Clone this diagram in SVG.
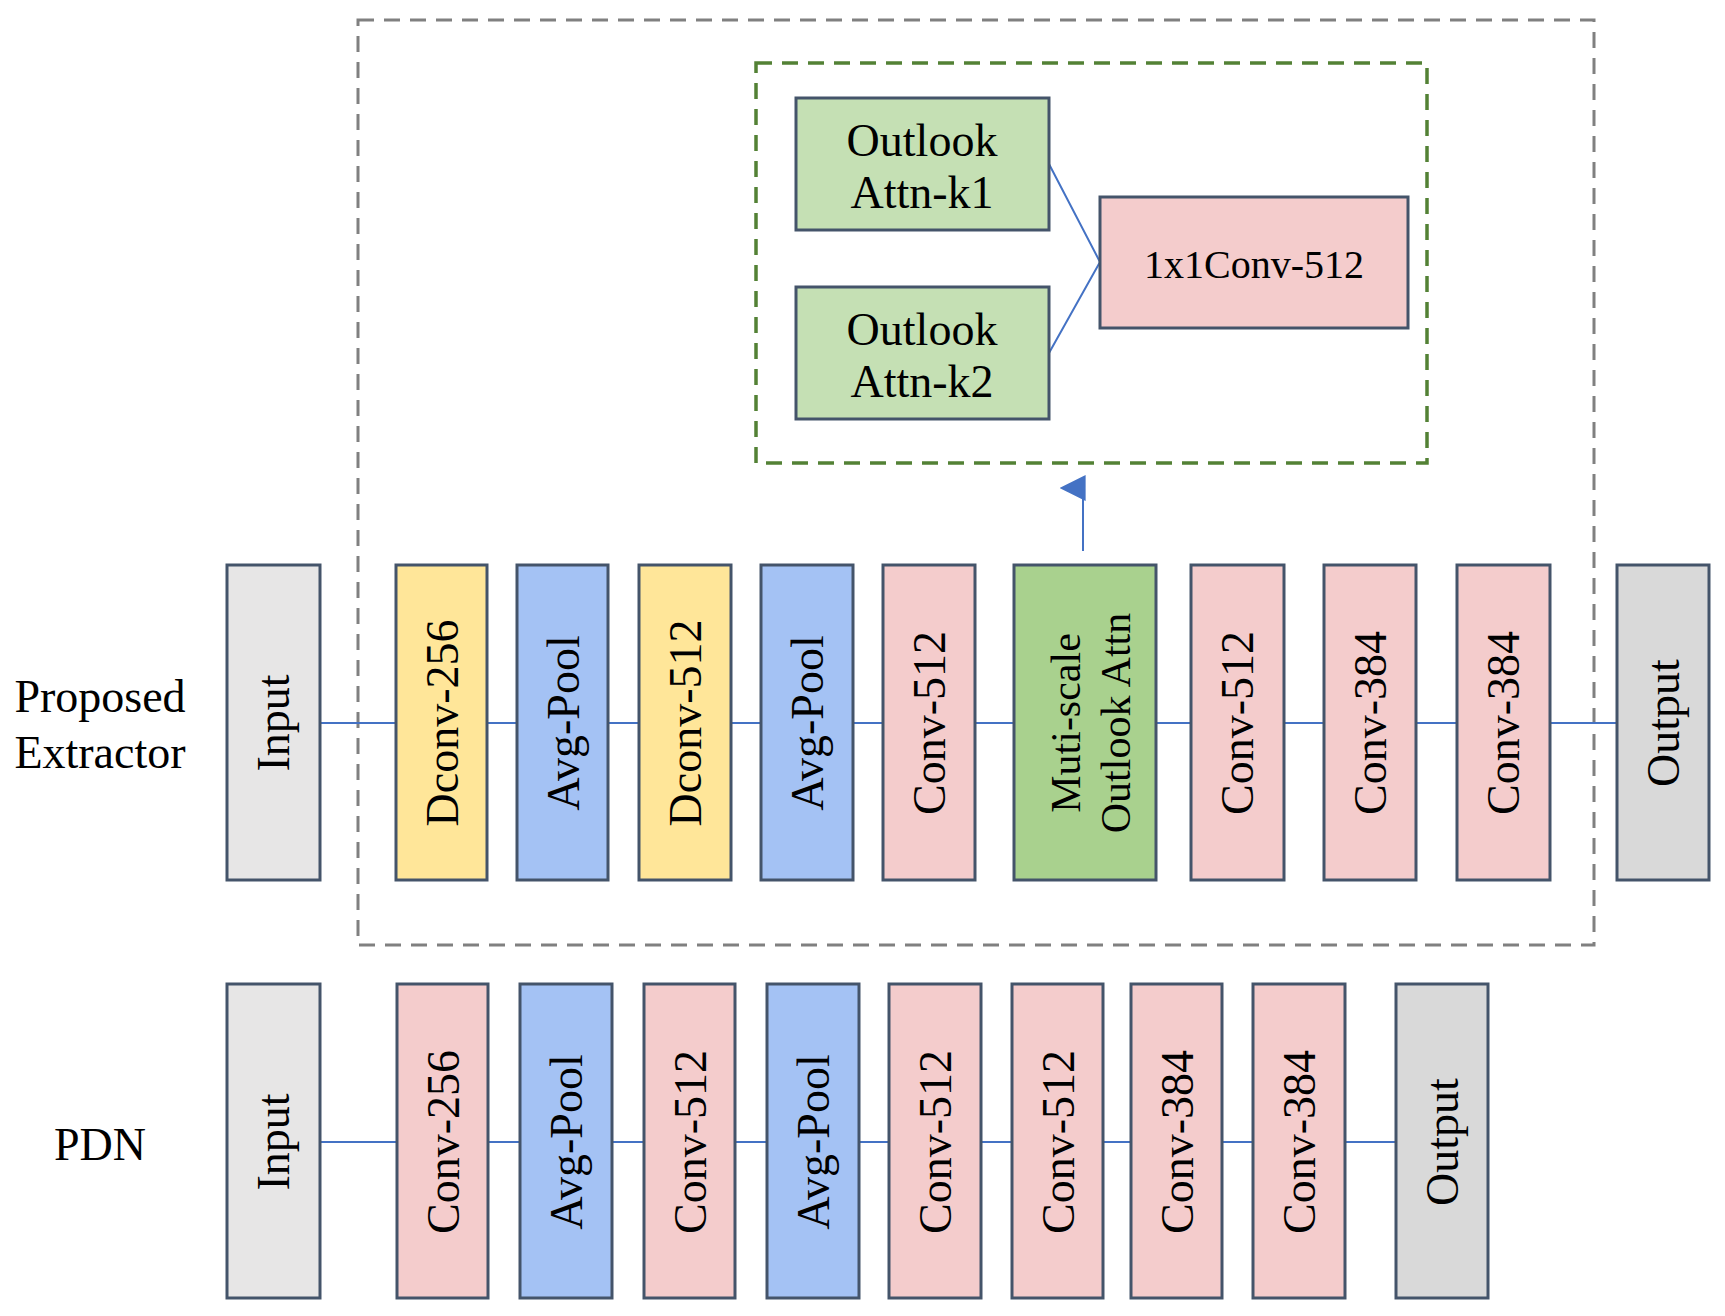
<svg xmlns="http://www.w3.org/2000/svg" width="1725" height="1316" viewBox="0 0 1725 1316">
<style>
.b{stroke:#44546a;stroke-width:3}
.gr{fill:#e7e6e6}.ye{fill:#ffe699}.bl{fill:#a4c2f4}.pk{fill:#f4cccc}.gn{fill:#a9d18e}.lg{fill:#c5e0b4}.op{fill:#d9d9d9}
text{font-family:"Liberation Serif",serif;font-size:46px;fill:#000;text-anchor:middle}
.c line,.c path{stroke:#4472c4;stroke-width:2;fill:none}
</style>
<defs><marker id="ah" viewBox="0 0 10 10" refX="5" refY="9" markerWidth="26" markerHeight="26" markerUnits="userSpaceOnUse" orient="auto-start-reverse"><path d="M0,10L5,0L10,10Z" fill="#4472c4"/></marker></defs>
<rect x="358" y="20" width="1236" height="925" fill="none" stroke="#808080" stroke-width="3" stroke-dasharray="16,10"/>
<rect x="756" y="63" width="671" height="400" fill="none" stroke="#538135" stroke-width="3.5" stroke-dasharray="16,10"/>
<g class="c">
<line x1="320" y1="723" x2="1617" y2="723"/>
<line x1="320" y1="1142" x2="1396" y2="1142"/>
<path d="M1049,164L1100,262L1049,353"/>
<line x1="1083" y1="551" x2="1083" y2="488" marker-end="url(#ah)"/>
</g>
<g id="k1"><rect class="b lg" x="796" y="98" width="253" height="132"/><text x="922" y="156">Outlook</text><text x="922" y="208">Attn-k1</text></g>
<g id="k2"><rect class="b lg" x="796" y="287" width="253" height="132"/><text x="922" y="345">Outlook</text><text x="922" y="397">Attn-k2</text></g>
<g id="c1x1"><rect class="b pk" x="1100" y="197" width="308" height="131"/><text x="1254" y="278" style="font-size:40px">1x1Conv-512</text></g>
<text x="100" y="712">Proposed</text>
<text x="100" y="768">Extractor</text>
<text x="100" y="1160">PDN</text>
<g id="t0"><rect class="b gr" x="227" y="565" width="93" height="315"/><text transform="translate(289,723) rotate(-90)">Input</text></g>
<g id="t1"><rect class="b ye" x="396" y="565" width="91" height="315"/><text transform="translate(458,723) rotate(-90)">Dconv-256</text></g>
<g id="t2"><rect class="b bl" x="517" y="565" width="91" height="315"/><text transform="translate(579,723) rotate(-90)">Avg-Pool</text></g>
<g id="t3"><rect class="b ye" x="639" y="565" width="92" height="315"/><text transform="translate(701,723) rotate(-90)">Dconv-512</text></g>
<g id="t4"><rect class="b bl" x="761" y="565" width="92" height="315"/><text transform="translate(823,723) rotate(-90)">Avg-Pool</text></g>
<g id="t5"><rect class="b pk" x="883" y="565" width="92" height="315"/><text transform="translate(945,723) rotate(-90)">Conv-512</text></g>
<g id="t6"><rect class="b gn" x="1014" y="565" width="142" height="315"/><text transform="translate(1080,723) rotate(-90)" style="font-size:42px">Muti-scale</text><text transform="translate(1130,723) rotate(-90)" style="font-size:42px">Outlook Attn</text></g>
<g id="t7"><rect class="b pk" x="1191" y="565" width="93" height="315"/><text transform="translate(1253,723) rotate(-90)">Conv-512</text></g>
<g id="t8"><rect class="b pk" x="1324" y="565" width="92" height="315"/><text transform="translate(1386,723) rotate(-90)">Conv-384</text></g>
<g id="t9"><rect class="b pk" x="1457" y="565" width="93" height="315"/><text transform="translate(1519,723) rotate(-90)">Conv-384</text></g>
<g id="t10"><rect class="b op" x="1617" y="565" width="92" height="315"/><text transform="translate(1679,723) rotate(-90)">Output</text></g>
<g id="p0"><rect class="b gr" x="227" y="984" width="93" height="314"/><text transform="translate(289,1142) rotate(-90)">Input</text></g>
<g id="p1"><rect class="b pk" x="397" y="984" width="91" height="314"/><text transform="translate(459,1142) rotate(-90)">Conv-256</text></g>
<g id="p2"><rect class="b bl" x="520" y="984" width="92" height="314"/><text transform="translate(582,1142) rotate(-90)">Avg-Pool</text></g>
<g id="p3"><rect class="b pk" x="644" y="984" width="91" height="314"/><text transform="translate(706,1142) rotate(-90)">Conv-512</text></g>
<g id="p4"><rect class="b bl" x="767" y="984" width="92" height="314"/><text transform="translate(829,1142) rotate(-90)">Avg-Pool</text></g>
<g id="p5"><rect class="b pk" x="889" y="984" width="92" height="314"/><text transform="translate(951,1142) rotate(-90)">Conv-512</text></g>
<g id="p6"><rect class="b pk" x="1012" y="984" width="91" height="314"/><text transform="translate(1074,1142) rotate(-90)">Conv-512</text></g>
<g id="p7"><rect class="b pk" x="1131" y="984" width="91" height="314"/><text transform="translate(1193,1142) rotate(-90)">Conv-384</text></g>
<g id="p8"><rect class="b pk" x="1253" y="984" width="92" height="314"/><text transform="translate(1315,1142) rotate(-90)">Conv-384</text></g>
<g id="p9"><rect class="b op" x="1396" y="984" width="92" height="314"/><text transform="translate(1458,1142) rotate(-90)">Output</text></g>
</svg>
